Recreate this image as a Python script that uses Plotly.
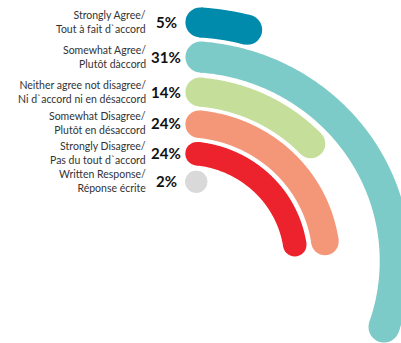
import numpy as np
import plotly.graph_objects as go

# Survey responses (share of respondents, %)
categories = [
    "Strongly Agree/<br>Tout à fait d`accord",
    "Somewhat Agree/<br>Plutôt dàccord",
    "Neither agree not disagree/<br>Ni d`accord ni en désaccord",
    "Somewhat Disagree/<br>Plutôt en désaccord",
    "Strongly Disagree/<br>Pas du tout d`accord",
    "Written Response/<br>Réponse écrite",
]
values = [5, 31, 14, 24, 24, 2]
value_labels = ["5%", "31%", "14%", "24%", "24%", "2%"]

# Ring styling (outer to inner)
colors = ["#008BAC", "#7DCBC8", "#C5DF9B", "#F49779", "#EC222C", "#D9D9D9"]
ring_radius = [239, 204.5, 169.5, 137.5, 108, 80]   # px from centre
ring_width = [30, 31, 29, 27.5, 23.5, 22]            # px
DEG_PER_PCT = 3.65

W, H = 401, 343
CX, CY = 185, 261          # centre of the rings in page pixels
XSTRETCH = 1.028           # px per x unit

fig = go.Figure()

for val, col, r, w in zip(values, colors, ring_radius, ring_width):
    half = np.degrees((w / 2) / r)
    a0 = half
    a1 = max(val * DEG_PER_PCT - half, a0)
    th = np.radians(np.linspace(a0, a1, 200))
    x = r * np.sin(th)
    y = r * np.cos(th)
    if a1 > a0:
        fig.add_trace(go.Scatter(x=x, y=y, mode="lines",
                                 line=dict(color=col, width=w, simplify=False),
                                 hoverinfo="skip", showlegend=False))
    fig.add_trace(go.Scatter(x=[x[0], x[-1]], y=[y[0], y[-1]], mode="markers",
                             marker=dict(color=col, size=w, line=dict(width=0)),
                             hoverinfo="skip", showlegend=False))

for cat, lab, r in zip(categories, value_labels, ring_radius):
    py = CY - r
    fig.add_annotation(x=148 / W, y=1 - py / H, xref="paper", yref="paper",
                       text=cat, showarrow=False, xanchor="right", yanchor="middle",
                       align="right", font=dict(family="Lato, sans-serif", size=10.5, color="#333333"))
    fig.add_annotation(x=166 / W, y=1 - py / H, xref="paper", yref="paper",
                       text="<b>" + lab + "</b>", showarrow=False, xanchor="center",
                       yanchor="middle", font=dict(family="Lato, sans-serif", size=15, color="#111111"))

fig.update_layout(
    width=W, height=H, margin=dict(l=0, r=0, t=0, b=0),
    paper_bgcolor="white", plot_bgcolor="white",
    xaxis=dict(range=[-CX / XSTRETCH, (W - CX) / XSTRETCH], visible=False, fixedrange=True),
    yaxis=dict(range=[-(H - CY), CY], visible=False, fixedrange=True),
)

fig.write_html("out.html")
